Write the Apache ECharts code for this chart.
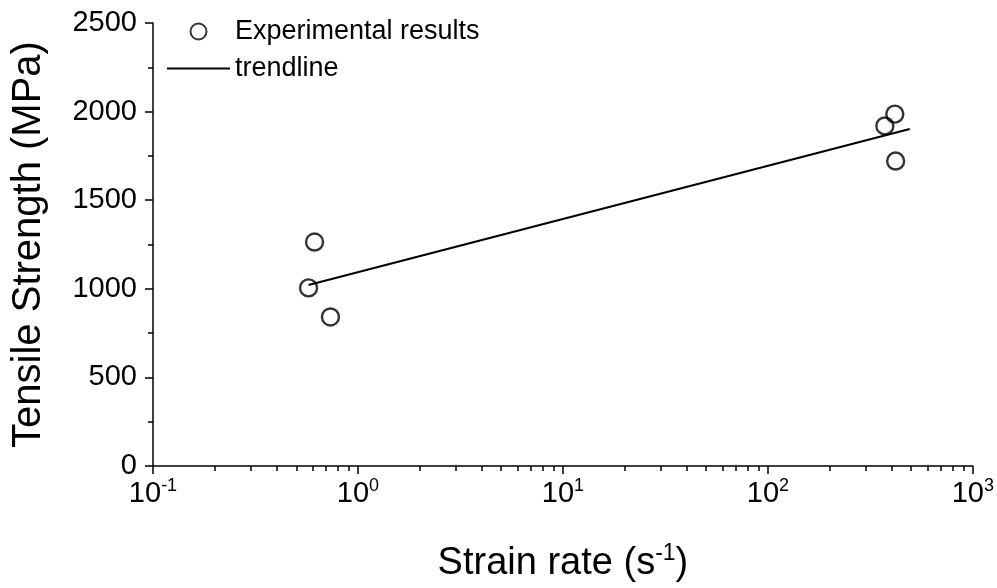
<!DOCTYPE html>
<html>
<head>
<meta charset="utf-8">
<script src="https://cdn.jsdelivr.net/npm/echarts@6/dist/echarts.min.js"></script>
<style>
html,body{margin:0;padding:0;background:#fff;}
#chart{width:997px;height:588px;}
</style>
</head>
<body>
<div id="chart"></div>
<script>
// Data
const strainRate = [0.614, 0.574, 0.734, 372, 416, 420];
const tensileStrength = [1264, 1005, 841, 1919, 1986, 1721];
const trendRate = [0.574, 492];
const trendStrength = [1021, 1902];
const minorTickValues = [];
[0.1, 1, 10, 100].forEach(function (d) {
  for (let k = 2; k <= 9; k++) minorTickValues.push(+(k * d).toPrecision(3));
});

const FONT = "'Liberation Sans', Arial, sans-serif";
const chart = echarts.init(document.getElementById('chart'), null, {renderer: 'canvas'});

const option = {
  backgroundColor: '#fff',
  animation: false,
  textStyle: {fontFamily: FONT, color: '#000'},
  grid: {left: 153, right: 21, top: 23, bottom: 122, containLabel: false},
  legend: {
    orient: 'vertical',
    left: 162,
    top: 13,
    itemWidth: 63,
    itemHeight: 16,
    itemGap: 10,
    itemStyle: {color: '#000'},
    textStyle: {fontFamily: FONT, fontSize: 27, color: '#000'},
    data: [
      {name: 'Experimental results', icon: 'circle', itemStyle: {color: '#fff', borderColor: '#000', borderWidth: 2}},
      {name: 'trendline', icon: 'path://M0,0 L63,0 L63,2 L0,2 Z', itemStyle: {color: '#000', borderWidth: 0}}
    ]
  },
  xAxis: [
    {
      type: 'log',
      logBase: 10,
      min: 0.1,
      max: 1000,
      name: '{t|Strain rate (s}{s|-1}{t|)}',
      nameLocation: 'middle',
      nameGap: 76,
      nameTextStyle: {
        rich: {
          t: {fontFamily: FONT, fontSize: 38, color: '#000', lineHeight: 44},
          s: {fontFamily: FONT, fontSize: 23, color: '#000', verticalAlign: 'top', lineHeight: 23}
        }
      },
      axisLine: {show: true, onZero: false, lineStyle: {color: '#000', width: 1.5}},
      axisTick: {show: true, inside: false, length: 8, lineStyle: {color: '#000', width: 1.5}},
      splitLine: {show: false},
      minorTick: {show: false},
      axisLabel: {
        margin: 11,
        formatter: function (v) {
          const e = Math.round(Math.log10(v));
          return '{b|10}{s|' + e + '}';
        },
        rich: {
          b: {fontFamily: FONT, fontSize: 29, color: '#000', lineHeight: 33},
          s: {fontFamily: FONT, fontSize: 18, color: '#000', verticalAlign: 'top', lineHeight: 18}
        }
      }
    },
    {
      type: 'log',
      logBase: 10,
      min: 0.1,
      max: 1000,
      position: 'bottom',
      axisLine: {show: false},
      axisLabel: {show: false},
      splitLine: {show: false},
      axisTick: {show: true, inside: false, length: 5, customValues: minorTickValues, lineStyle: {color: '#000', width: 1.5}}
    }
  ],
  yAxis: {
    type: 'value',
    min: 0,
    max: 2500,
    interval: 500,
    name: 'Tensile Strength (MPa)',
    nameLocation: 'middle',
    nameGap: 104,
    nameTextStyle: {fontFamily: FONT, fontSize: 40, color: '#000'},
    axisLine: {show: true, lineStyle: {color: '#000', width: 1.5}},
    axisTick: {show: true, inside: false, length: 8, lineStyle: {color: '#000', width: 1.5}},
    minorTick: {show: true, splitNumber: 2, length: 5, lineStyle: {color: '#000', width: 1.5}},
    splitLine: {show: false},
    axisLabel: {
      margin: 16, fontFamily: FONT, fontSize: 29, color: '#000',
      formatter: function (v) { return String(v); }
    }
  },
  series: [
    {
      name: 'trendline',
      type: 'line',
      xAxisIndex: 0,
      symbol: 'none',
      lineStyle: {color: '#000', width: 2},
      itemStyle: {color: '#000'},
      data: trendRate.map(function (x, i) { return [x, trendStrength[i]]; }),
      z: 2
    },
    {
      name: 'Experimental results',
      type: 'scatter',
      xAxisIndex: 0,
      symbol: 'circle',
      symbolSize: 17,
      itemStyle: {color: 'rgba(255,255,255,0)', borderColor: '#000', borderWidth: 2.4},
      data: strainRate.map(function (x, i) { return [x, tensileStrength[i]]; }),
      z: 3
    }
  ]
};
chart.setOption(option);
</script>
</body>
</html>
